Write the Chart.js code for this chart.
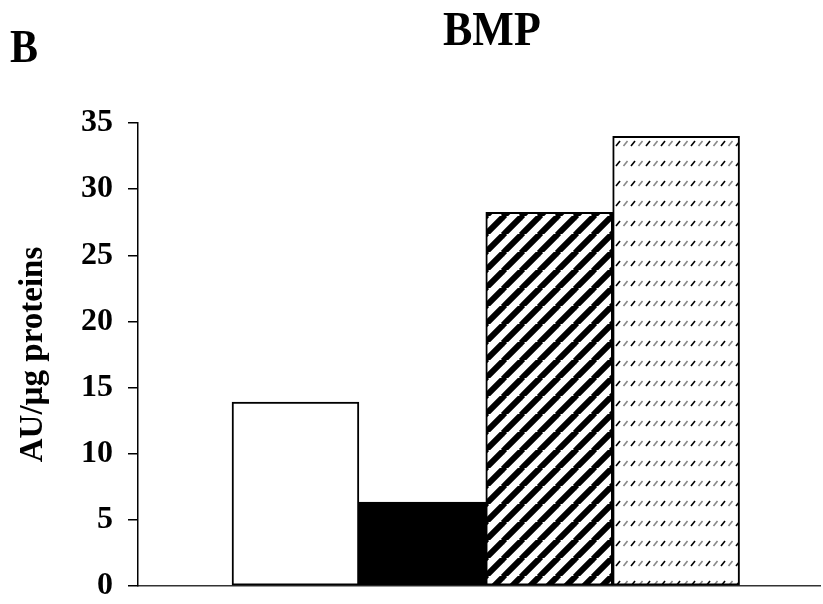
<!DOCTYPE html>
<html>
<head>
<meta charset="utf-8">
<script src="https://cdn.jsdelivr.net/npm/chart.js@4/dist/chart.umd.min.js"></script>
<style>
  body { margin: 0; background: #fff; }
  #wrap { position: relative; width: 823px; height: 604px; }
</style>
</head>
<body>
<div id="wrap"><canvas id="bmp" width="823" height="604"></canvas></div>
<script>
// data
const slots = [1, 2, 3, 4];            // bar slot along the x axis
const values = [13.9, 6.35, 28.25, 34.0];
const panelLabel = 'B';
const chartTitle = 'BMP';
const yTitle = 'AU/µg proteins';

const serif = '"Liberation Serif", "Times New Roman", serif';

// diagonal stripes for bar 3
function stripes() {
  const s = 18;
  const c = document.createElement('canvas');
  c.width = s; c.height = s;
  const g = c.getContext('2d');
  g.fillStyle = '#fff';
  g.fillRect(0, 0, s, s);
  g.strokeStyle = '#000';
  g.lineWidth = 6;
  [-s, 0, s].forEach(dx => {
    g.beginPath();
    g.moveTo(dx - 1, s + 1);
    g.lineTo(dx + s + 1, -1);
    g.stroke();
  });
  return g.createPattern(c, 'repeat');
}

// rows of small slashes for bar 4
function dashes() {
  const c = document.createElement('canvas');
  c.width = 15; c.height = 20;
  const g = c.getContext('2d');
  g.fillStyle = '#fff';
  g.fillRect(0, 0, 15, 20);
  g.lineWidth = 1.6;
  g.strokeStyle = '#000';
  g.beginPath(); g.moveTo(1, 6); g.lineTo(5, 1); g.stroke();
  g.strokeStyle = '#888';
  g.beginPath(); g.moveTo(8.5, 6); g.lineTo(12.5, 1); g.stroke();
  return g.createPattern(c, 'repeat');
}

const headings = {
  id: 'headings',
  afterDraw(chart) {
    const ctx = chart.ctx;
    ctx.save();
    ctx.fillStyle = '#000';
    ctx.textBaseline = 'alphabetic';
    ctx.textAlign = 'left';
    // the source lettering is a little taller than it is wide
    ctx.font = 'bold 42px ' + serif;
    ctx.translate(10, 62);
    ctx.scale(1, 1.08);
    ctx.fillText(panelLabel, 0, 0);
    ctx.setTransform(1, 0, 0, 1, 0, 0);
    ctx.font = 'bold 44px ' + serif;
    ctx.translate(443, 45);
    ctx.scale(1, 1.08);
    ctx.fillText(chartTitle, 0, 0);
    ctx.restore();
  }
};

new Chart(document.getElementById('bmp'), {
  type: 'bar',
  data: {
    datasets: [{
      data: slots.map((x, i) => ({ x: x, y: values[i] })),
      backgroundColor: ['#ffffff', '#000000', stripes(), dashes()],
      borderColor: '#000',
      borderWidth: 2,
      borderSkipped: false,
      barPercentage: 1,
      categoryPercentage: 1
    }]
  },
  plugins: [headings],
  options: {
    responsive: false,
    animation: false,
    layout: { padding: { top: 123, right: 3, bottom: 18, left: 0 } },
    plugins: {
      legend: { display: false },
      tooltip: { enabled: false }
    },
    scales: {
      x: {
        type: 'linear',
        offset: false,
        min: -0.241,
        max: 5.134,
        ticks: { display: false, stepSize: 1 },
        afterBuildTicks: s => { s.ticks = s.ticks.filter(t => Number.isInteger(t.value)); },
        afterFit: s => { s.height = 0; },
        grid: { display: false, offset: false },
        border: { display: true, color: '#333', width: 1.5 }
      },
      y: {
        min: 0,
        max: 35,
        ticks: {
          stepSize: 5,
          color: '#000',
          padding: 15,
          font: { family: serif, size: 32, weight: 'bold' }
        },
        afterFit: s => {
          s.width = 138;
          // keep the tick-label overhang from pushing the plot area in
          s.paddingTop = 0;
          s.paddingBottom = 0;
        },
        grid: {
          drawOnChartArea: false,
          drawTicks: true,
          tickLength: 10,
          color: '#000',
          lineWidth: 1.5
        },
        border: { display: true, color: '#000', width: 1.5 },
        title: {
          display: true,
          text: yTitle,
          color: '#000',
          padding: { top: 14, bottom: 0 },
          font: { family: serif, size: 33, weight: 'bold' }
        }
      }
    }
  }
});
</script>
</body>
</html>
